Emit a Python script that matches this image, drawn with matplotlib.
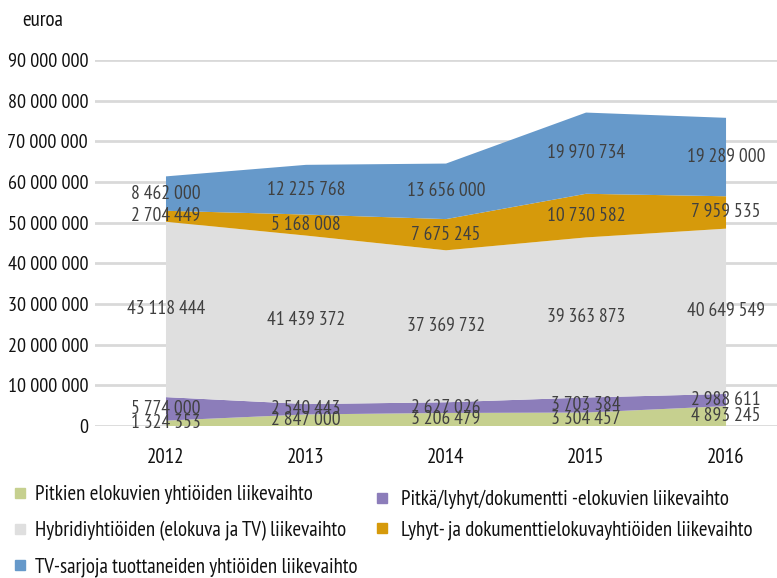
import matplotlib
matplotlib.use("Agg")
import matplotlib.pyplot as plt
from matplotlib.lines import Line2D
import numpy as np

years = ["2012", "2013", "2014", "2015", "2016"]
series_names = [
    "Pitkien elokuvien yhtiöiden liikevaihto",
    "Pitkä/lyhyt/dokumentti -elokuvien liikevaihto",
    "Hybridiyhtiöiden (elokuva ja TV) liikevaihto",
    "Lyhyt- ja dokumenttielokuvayhtiöiden liikevaihto",
    "TV-sarjoja tuottaneiden yhtiöiden liikevaihto",
]
pitkat = [1324353, 2847000, 3206479, 3304457, 4893245]
pitka_lyhyt = [5774000, 2540443, 2627026, 3703384, 2988611]
hybridi = [43118444, 41439372, 37369732, 39363873, 40649549]
lyhyt_dok = [2704449, 5168008, 7675245, 10730582, 7959535]
tv = [8462000, 12225768, 13656000, 19970734, 19289000]
yticks = [0, 10000000, 20000000, 30000000, 40000000, 50000000,
          60000000, 70000000, 80000000, 90000000]

colors = ["#C6D08F", "#8C7DBA", "#DFDFDF", "#D69A0B", "#6699CA"]
FONT = ["PT Sans Narrow", "DejaVu Sans"]
plt.rcParams["font.family"] = FONT

def fmt(v, sep=" "):
    return f"{v:,}".replace(",", sep)

fig = plt.figure(figsize=(7.77, 5.78), dpi=100)
renderer = fig.canvas.get_renderer()

def fit_size(s, target_px, base=15.0):
    t = fig.text(0, 0, s, fontsize=base)
    w = t.get_window_extent(renderer).width
    t.remove()
    return base * target_px / w

tick_fs = min(16.0, fit_size("30 000 000", 81))
label_fs = min(16.0, fit_size(fmt(43118444, "\u2009"), 78))

ax = fig.add_axes([95/777, 1 - 426/578, 1 - 95/777, (426 - 60)/578])

data = [pitkat, pitka_lyhyt, hybridi, lyhyt_dok, tv]
x = np.arange(len(years))
ax.stackplot(x, *data, colors=colors, zorder=2)

ax.set_xlim(-0.507, 4.364)
ax.set_ylim(0, 90000000)
ax.set_yticks(yticks)
ax.set_yticklabels([fmt(v) for v in yticks], fontsize=tick_fs, color="#111111")
ax.set_xticks(x)
ax.set_xticklabels(years, fontsize=15, color="#111111")
ax.tick_params(axis="both", length=0)
ax.tick_params(axis="y", pad=5)
ax.tick_params(axis="x", pad=16)
ax.grid(axis="y", color="#D9D9D9", linewidth=2, zorder=0)
ax.set_axisbelow(True)
for s in ax.spines.values():
    s.set_visible(False)

cum = np.zeros(len(years))
for vals in data:
    vals = np.array(vals)
    mids = cum + vals / 2
    for i in range(len(years)):
        ax.text(x[i], mids[i], fmt(int(vals[i]), "\u2009"), ha="center",
                va="center", fontsize=label_fs, color="#404040", zorder=3)
    cum = cum + vals

fig.text(22/777, 1 - 20/578, "euroa", fontsize=15, color="#111111",
         ha="left", va="center")

def handle(c):
    return Line2D([], [], marker="s", linestyle="none", markersize=7,
                  markerfacecolor=c, markeredgecolor=c)

leg1 = fig.legend([handle(colors[0]), handle(colors[2]), handle(colors[4])],
                  [series_names[0], series_names[2], series_names[4]],
                  loc="upper left", bbox_to_anchor=(14/777, 1 - 485/578),
                  frameon=False, fontsize=15, handlelength=0.6,
                  handletextpad=0.4, labelspacing=0.8, borderaxespad=0,
                  borderpad=0)
leg2 = fig.legend([handle(colors[1]), handle(colors[3])],
                  [series_names[1], series_names[3]],
                  loc="upper left", bbox_to_anchor=(376/777, 1 - 490/578),
                  frameon=False, fontsize=15, handlelength=0.6,
                  handletextpad=0.6, labelspacing=0.55, borderaxespad=0,
                  borderpad=0)
for leg in (leg1, leg2):
    for t in leg.get_texts():
        t.set_color("#111111")

fig.savefig("out.png", dpi=100)
